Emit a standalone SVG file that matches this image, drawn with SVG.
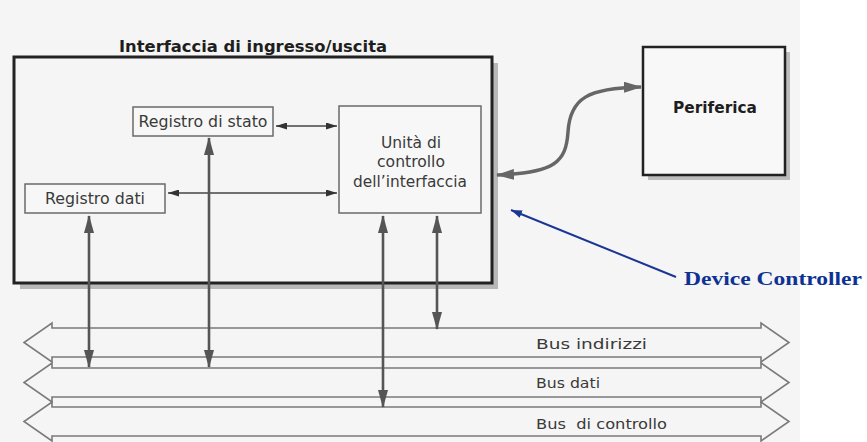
<svg xmlns="http://www.w3.org/2000/svg" width="867" height="442" viewBox="0 0 867 442">
<style>
.t{font-family:"DejaVu Sans","Verdana",sans-serif;fill:#3a3a3a;font-size:15px}
.c{font-family:"DejaVu Sans Condensed","DejaVu Sans",sans-serif;font-size:14px}
.b{font-weight:bold;fill:#1e1e1e}
.box{fill:#f7f7f7;stroke:#6a6a6a;stroke-width:1.5}
.bus{fill:none;stroke:#7a7a7a;stroke-width:1.6;stroke-linejoin:miter}
.v{stroke:#555;stroke-width:2.6;fill:none}
.h{stroke:#444;stroke-width:1.3;fill:none}
</style>
<defs>
<marker id="va" markerUnits="userSpaceOnUse" markerWidth="18" markerHeight="10" viewBox="0 0 18 10" refX="17" refY="5" orient="auto-start-reverse"><path d="M0,0 L18,5 L0,10 z" fill="#555"/></marker>
<marker id="ha" markerUnits="userSpaceOnUse" markerWidth="11" markerHeight="7" viewBox="0 0 11 7" refX="11" refY="3.5" orient="auto-start-reverse"><path d="M0,0 L11,3.5 L0,7 z" fill="#333"/></marker>
<marker id="ca" markerUnits="userSpaceOnUse" markerWidth="18" markerHeight="11" viewBox="0 0 18 11" refX="17" refY="5.5" orient="auto-start-reverse"><path d="M0,0 L18,5.5 L0,11 z" fill="#666"/></marker>
<marker id="ba" markerUnits="userSpaceOnUse" markerWidth="11" markerHeight="8" viewBox="0 0 11 8" refX="11" refY="4" orient="auto"><path d="M0,0 L11,4 L0,8 z" fill="#1a3594"/></marker>
</defs>
<rect x="0" y="0" width="867" height="442" fill="#ffffff"/>
<rect x="0" y="0" width="800" height="442" fill="#f5f5f5"/>

<g id="interfaccia">
<rect x="20" y="63" width="478" height="226" fill="#b8b8b8"/>
<rect x="14" y="57" width="478" height="226" fill="#f5f5f5" stroke="#222" stroke-width="3"/>
<text class="t b" x="253" y="52" text-anchor="middle" font-size="15" textLength="268" lengthAdjust="spacingAndGlyphs">Interfaccia di ingresso/uscita</text>
</g>

<g id="registro-stato">
<rect class="box" x="133" y="107" width="140" height="29"/>
<text class="t" x="203" y="127" text-anchor="middle" textLength="129" lengthAdjust="spacingAndGlyphs">Registro di stato</text>
</g>

<g id="registro-dati">
<rect class="box" x="25" y="184" width="140" height="29"/>
<text class="t" x="95" y="204" text-anchor="middle" textLength="100" lengthAdjust="spacingAndGlyphs">Registro dati</text>
</g>

<g id="unita-controllo">
<rect class="box" x="339" y="106" width="142" height="107"/>
<text class="t" x="411" y="148" text-anchor="middle" textLength="60" lengthAdjust="spacingAndGlyphs">Unità di</text>
<text class="t" x="411" y="167" text-anchor="middle" textLength="68" lengthAdjust="spacingAndGlyphs">controllo</text>
<text class="t" x="410" y="187" text-anchor="middle" textLength="114" lengthAdjust="spacingAndGlyphs">dell’interfaccia</text>
</g>

<g id="periferica">
<rect x="648" y="52" width="142" height="128" fill="#bdbdbd"/>
<rect x="643" y="47" width="142" height="128" fill="#f8f8f8" stroke="#222" stroke-width="2.5"/>
<text class="t b" x="715" y="113" text-anchor="middle" textLength="84" lengthAdjust="spacingAndGlyphs">Periferica</text>
</g>

<g id="bus-indirizzi">
<path class="bus" d="M52,328 L761,328 L761,323 L789,342.5 L761,362 L761,357 L52,357 L52,362 L24,342.5 L52,323 Z"/>
<text class="t c" x="536" y="349" textLength="111" lengthAdjust="spacingAndGlyphs">Bus indirizzi</text>
</g>
<g id="bus-dati">
<path class="bus" d="M52,368 L761,368 L761,363 L789,382.5 L761,402 L761,397 L52,397 L52,402 L24,382.5 L52,363 Z"/>
<text class="t c" x="536" y="388" textLength="64" lengthAdjust="spacingAndGlyphs">Bus dati</text>
</g>
<g id="bus-controllo">
<path class="bus" d="M52,407 L761,407 L761,402 L789,421.5 L761,441 L761,436 L52,436 L52,441 L24,421.5 L52,402 Z"/>
<text class="t c" x="536" y="429" textLength="131" lengthAdjust="spacingAndGlyphs" xml:space="preserve">Bus  di controllo</text>
</g>

<g id="device-controller">
<text x="684" y="285" font-family="'Liberation Serif','Times New Roman',serif" font-weight="bold" font-size="19" fill="#0d3294" textLength="178" lengthAdjust="spacingAndGlyphs">Device Controller</text>
</g>

<g id="connectors">
<line class="h" x1="276" y1="126" x2="337" y2="126" marker-start="url(#ha)" marker-end="url(#ha)"/>
<line class="h" x1="168" y1="193" x2="337" y2="193" marker-start="url(#ha)" marker-end="url(#ha)"/>
<line class="v" x1="89" y1="216" x2="89" y2="367" marker-start="url(#va)" marker-end="url(#va)"/>
<line class="v" x1="209" y1="138" x2="209" y2="367" marker-start="url(#va)" marker-end="url(#va)"/>
<line class="v" x1="383" y1="216" x2="383" y2="407" marker-start="url(#va)" marker-end="url(#va)"/>
<line class="v" x1="437" y1="216" x2="437" y2="329" marker-start="url(#va)" marker-end="url(#va)"/>
<path d="M497,175 C555,173 566,162 568,132 C570,98 588,88 641,87" fill="none" stroke="#666" stroke-width="3.5" marker-start="url(#ca)" marker-end="url(#ca)"/>
<line x1="676" y1="277" x2="511" y2="210" stroke="#1a3594" stroke-width="2" marker-end="url(#ba)"/>
</g>
</svg>
